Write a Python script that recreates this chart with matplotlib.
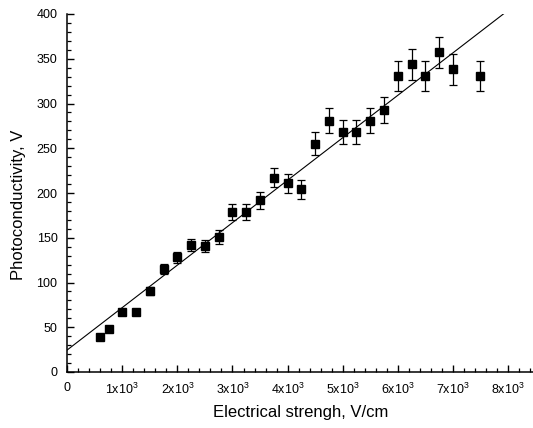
import matplotlib
matplotlib.use("Agg")
import matplotlib.pyplot as plt
import numpy as np
from matplotlib.ticker import MultipleLocator, FixedLocator, FixedFormatter

plt.rcParams['font.family'] = ['Liberation Sans', 'DejaVu Sans']
plt.rcParams['mathtext.fontset'] = 'custom'
plt.rcParams['mathtext.rm'] = 'Liberation Sans'
plt.rcParams['mathtext.it'] = 'Liberation Sans:italic'
plt.rcParams['mathtext.bf'] = 'Liberation Sans:bold'

# Data
field = [600, 750, 1000, 1250, 1500, 1750, 2000, 2250, 2500, 2750, 3000, 3250, 3500,
         3750, 4000, 4250, 4500, 4750, 5000, 5250, 5500, 5750, 6000, 6250, 6500,
         6750, 7000, 7500]
photo = [39, 48, 67, 67, 90, 115, 128, 142, 141, 151, 179, 179, 192,
         217, 211, 204, 255, 281, 268, 268, 281, 293, 331, 344, 331,
         357, 338, 331]
photo_err = [2.0, 2.4, 3.4, 3.4, 4.5, 5.8, 6.4, 7.1, 7.0, 7.5, 9.0, 9.0, 9.6,
             10.8, 10.5, 10.2, 12.7, 14.0, 13.4, 13.4, 14.0, 14.6, 16.5, 17.2, 16.5,
             17.8, 16.9, 16.5]
fit_intercept = 24.6
fit_slope = 0.04742

xtick_vals = [0, 1000, 2000, 3000, 4000, 5000, 6000, 7000, 8000]
xtick_labels = ['0'] + [r'$\mathregular{%dx10^3}$' % k for k in range(1, 9)]
ytick_vals = [0, 50, 100, 150, 200, 250, 300, 350, 400]

W, H = 533, 428
fig = plt.figure(figsize=(W / 100, H / 100), dpi=100)
ax = fig.add_axes([67.2 / W, 1 - 372 / H, 1 - 67.2 / W, (372 - 14) / H])

ax.errorbar(field, photo, yerr=photo_err, fmt='s', color='black', ms=6,
            ecolor='black', elinewidth=0.9, capsize=3, capthick=0.9, zorder=3)

xx = np.array([0, 9000])
ax.plot(xx, fit_intercept + fit_slope * xx, color='black', lw=0.8, zorder=2)

ax.set_xlim(0, 8454)
ax.set_ylim(0, 400)

ax.xaxis.set_major_locator(FixedLocator(xtick_vals))
ax.xaxis.set_major_formatter(FixedFormatter(xtick_labels))
ax.xaxis.set_minor_locator(MultipleLocator(200))
ax.yaxis.set_major_locator(FixedLocator(ytick_vals))
ax.yaxis.set_minor_locator(MultipleLocator(10))

ax.spines['top'].set_visible(False)
ax.spines['right'].set_visible(False)
for s in ('left', 'bottom'):
    ax.spines[s].set_linewidth(1.1)

ax.tick_params(which='major', direction='in', length=5, width=1.0, labelsize=9, pad=7)
ax.tick_params(which='minor', direction='in', length=3, width=0.9)

fig.text(301 / W, 1 - 413 / H, 'Electrical strengh, V/cm', ha='center', va='center', fontsize=12)
fig.text(19 / W, 1 - 205 / H, 'Photoconductivity, V', ha='center', va='center',
         rotation=90, fontsize=12)

fig.savefig('out.png', dpi=100)
